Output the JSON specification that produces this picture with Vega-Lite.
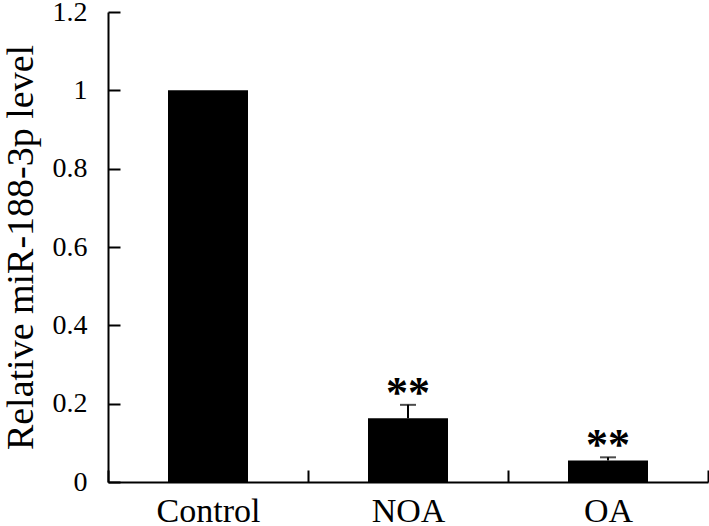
{
  "$schema": "https://vega.github.io/schema/vega-lite/v6.json",
  "width": 600,
  "height": 470,
  "autosize": {"type": "none"},
  "padding": {"left": 108, "top": 12, "right": 1, "bottom": 44},
  "background": "white",
  "config": {"view": {"stroke": null}, "font": "Liberation Serif"},
  "data": {"values": [
    {"group": "Control", "value": 1.0, "err": null, "sig": ""},
    {"group": "NOA", "value": 0.163, "err": 0.197, "sig": "**"},
    {"group": "OA", "value": 0.055, "err": 0.063, "sig": "**"}
  ]},
  "encoding": {
    "x": {
      "field": "group", "type": "nominal", "sort": null,
      "scale": {"paddingInner": 0, "paddingOuter": 0},
      "axis": {
        "title": null, "labelAngle": 0, "labelFont": "Liberation Serif", "labelFontSize": 34,
        "labelColor": "black", "domainColor": "black", "domainWidth": 2,
        "tickColor": "black", "tickWidth": 2, "tickSize": -12, "tickBand": "extent",
        "labelPadding": 51, "labelBaseline": "alphabetic", "grid": false
      }
    }
  },
  "layer": [
    {
      "mark": {"type": "bar", "color": "black", "width": {"band": 0.4}},
      "encoding": {
        "y": {
          "field": "value", "type": "quantitative",
          "scale": {"domain": [0, 1.2], "nice": false},
          "axis": {
            "title": "Relative miR-188-3p level", "titleFont": "Liberation Serif", "titleFontSize": 38,
            "titleFontWeight": "normal", "titleColor": "black", "titlePadding": 12,
            "values": [0, 0.2, 0.4, 0.6, 0.8, 1, 1.2], "format": "~g",
            "labelFont": "Liberation Serif", "labelFontSize": 28, "labelColor": "black",
            "domainColor": "black", "domainWidth": 2, "tickColor": "black", "tickWidth": 2,
            "tickSize": -12, "labelPadding": 33, "grid": false
          }
        }
      }
    },
    {
      "mark": {"type": "rule", "color": "black", "strokeWidth": 2},
      "encoding": {
        "y": {"field": "value", "type": "quantitative"},
        "y2": {"field": "err"}
      }
    },
    {
      "mark": {"type": "tick", "color": "black", "size": 16, "thickness": 2},
      "encoding": {
        "y": {"field": "err", "type": "quantitative"}
      }
    },
    {
      "mark": {"type": "text", "font": "Liberation Serif", "fontSize": 44, "fontWeight": "bold", "color": "black", "baseline": "alphabetic", "dy": 2},
      "encoding": {
        "y": {"field": "err", "type": "quantitative"},
        "text": {"field": "sig"}
      }
    }
  ]
}
